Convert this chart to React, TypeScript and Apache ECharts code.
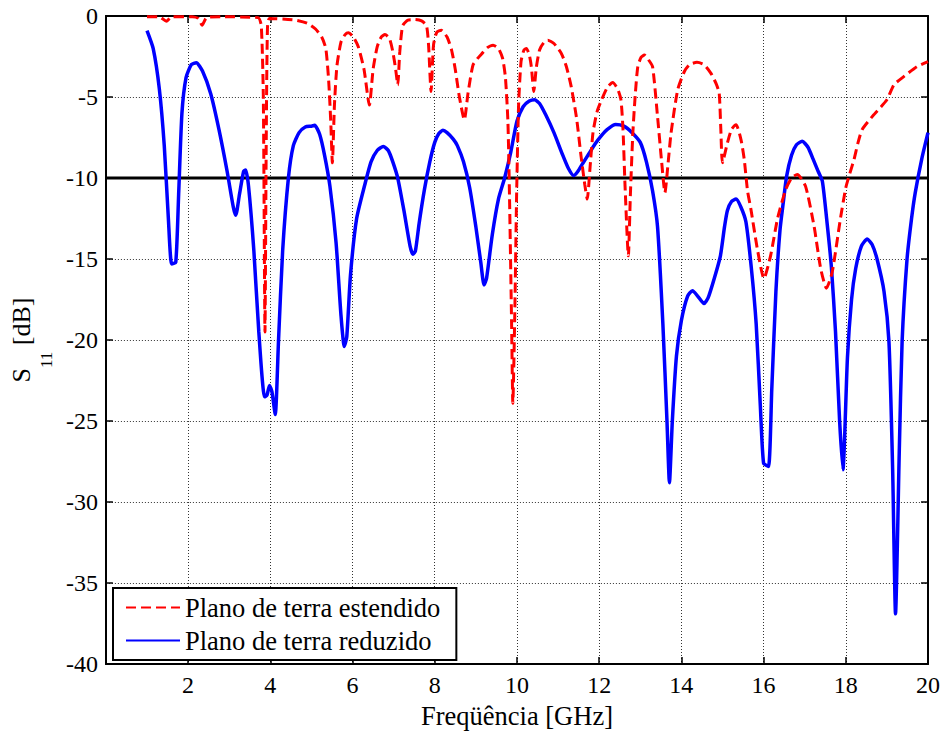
import React, { useEffect, useRef } from "react";
import * as echarts from "echarts";

// Frequency sweep (GHz) and S11 (dB) for the extended ground plane
const extFreq = [
  1.0, 1.3, 1.47, 1.6, 2.1, 2.25, 2.34, 2.45, 2.8, 3.7, 3.78, 3.83, 3.87, 3.9, 3.93, 3.98,
  4.6, 4.9, 5.1, 5.25, 5.35, 5.42, 5.47, 5.51, 5.56, 5.62, 5.72, 5.82, 5.9, 6.02, 6.14, 6.28,
  6.41, 6.5, 6.6, 6.7, 6.79, 6.9, 6.98, 7.05, 7.1, 7.15, 7.22, 7.35, 7.52, 7.68, 7.8, 7.85,
  7.91, 7.97, 8.05, 8.16, 8.3, 8.41, 8.5, 8.6, 8.72, 8.81, 8.93, 9.05, 9.14, 9.28, 9.42, 9.55,
  9.65, 9.72, 9.78, 9.82, 9.87, 9.9, 9.95, 9.99, 10.04, 10.1, 10.17, 10.23, 10.3, 10.35, 10.41,
  10.47, 10.55, 10.65, 10.75, 10.9, 11.08, 11.2, 11.32, 11.45, 11.56, 11.65, 11.71, 11.78,
  11.85, 11.95, 12.06, 12.2, 12.33, 12.45, 12.53, 12.58, 12.63, 12.71, 12.76, 12.82, 12.88,
  12.94, 13.02, 13.1, 13.2, 13.3, 13.42, 13.52, 13.6, 13.68, 13.75, 13.91, 14.07, 14.2, 14.38,
  14.55, 14.72, 14.85, 14.92, 14.96, 15.0, 15.12, 15.22, 15.33, 15.45, 15.53, 15.61, 15.69,
  15.85, 16.01, 16.17, 16.34, 16.54, 16.68, 16.82, 17.02, 17.23, 17.39, 17.53, 17.67, 17.87,
  18.0, 18.1, 18.2, 18.3, 18.4, 18.68, 19.0, 19.17, 19.41, 19.73, 20.0,
];
const extS11 = [
  -0.05, -0.05, -0.33, -0.05, -0.05, -0.15, -0.57, -0.1, -0.05, -0.1, -0.6, -5, -19.5, -8, -0.8, -0.15,
  -0.25, -0.45, -0.8, -1.3, -2.0, -4.0, -6.5, -9.06, -5.5, -3.1, -1.6, -1.15, -1.04, -1.3, -1.9, -3.3,
  -5.5, -3.3, -1.9, -1.3, -1.14, -1.4, -2.2, -3.3, -4.25, -2.2, -0.6, -0.25, -0.22, -0.3, -0.6, -1.8,
  -4.66, -1.8, -1.0, -0.88, -1.3, -2.1, -3.3, -5.0, -6.4, -4.76, -3.03, -2.6, -2.35, -1.95, -1.8, -2.0,
  -2.6, -3.8, -6.5, -11.3, -19, -23.9, -18, -11.3, -5.5, -2.8, -2.1, -2.0, -2.4, -3.13, -4.66,
  -3.2, -2.1, -1.65, -1.49, -1.7, -2.31, -3.1, -4.36, -6.3, -8.66, -10.4, -11.3, -9.3,
  -7.2, -5.9, -5.17, -4.4, -4.11, -4.5, -5.17, -7, -10.5, -14.8, -11, -7.2, -4.8,
  -3.13, -2.55, -2.41, -2.7, -3.13, -6.2, -9.0, -10.9, -9.0, -7.2, -4.56, -3.44, -3.0, -2.86,
  -3.0, -3.54, -4.2, -4.76, -7.0, -9.06, -7.83, -7.0, -6.71, -7.63, -8.86, -10.8, -11.9,
  -14.4, -16.2, -14.8, -12.5, -10.7, -10.0, -9.78, -10.5, -13.0, -15.6, -16.8, -15.8, -12.5,
  -10.6, -9.7, -8.86, -7.8, -7.0, -6.1, -5.17, -4.25, -3.74, -3.13, -2.82,
];

// Frequency sweep (GHz) and S11 (dB) for the reduced ground plane
const redFreq = [
  1.0, 1.15, 1.3, 1.42, 1.52, 1.6, 1.7, 1.77, 1.85, 1.95, 2.08, 2.2, 2.35, 2.55, 2.75, 2.95,
  3.1, 3.16, 3.25, 3.35, 3.4, 3.47, 3.6, 3.72, 3.86, 3.92, 3.98, 4.04, 4.12, 4.2, 4.3, 4.44,
  4.56, 4.7, 4.85, 5.0, 5.08, 5.2, 5.32, 5.45, 5.6, 5.72, 5.8, 5.86, 5.95, 6.1, 6.3, 6.45,
  6.6, 6.75, 6.87, 6.98, 7.1, 7.25, 7.4, 7.47, 7.53, 7.62, 7.75, 7.88, 8.0, 8.1, 8.2, 8.3,
  8.45, 8.55, 8.7, 8.85, 9.0, 9.12, 9.2, 9.26, 9.4, 9.55, 9.7, 9.85, 10.0, 10.15, 10.3, 10.43,
  10.55, 10.7, 10.9, 11.1, 11.25, 11.38, 11.48, 11.6, 11.75, 11.9, 12.05, 12.2, 12.4, 12.6,
  12.8, 13.0, 13.15, 13.3, 13.42, 13.55, 13.65, 13.71, 13.78, 13.88, 14.0, 14.15, 14.27, 14.4,
  14.55, 14.65, 14.8, 14.95, 15.05, 15.12, 15.22, 15.33, 15.45, 15.57, 15.7, 15.82, 15.92,
  16.0, 16.12, 16.2, 16.3, 16.4, 16.48, 16.56, 16.68, 16.8, 16.94, 17.08, 17.2, 17.33, 17.43,
  17.55, 17.65, 17.75, 17.85, 17.93, 18.04, 18.14, 18.24, 18.38, 18.52, 18.64, 18.76, 18.93,
  19.05, 19.14, 19.21, 19.3, 19.37, 19.49, 19.6, 19.69, 19.85, 20.0,
];
const redS11 = [
  -0.9, -2.0, -4.5, -8.0, -12.5, -15.3, -15.2, -11, -6.0, -3.8, -3.0, -2.88, -3.4, -4.8, -7.0, -9.6,
  -11.8, -12.3, -11.0, -9.6, -9.5, -10.5, -14.5, -19.5, -23.5, -23.4, -22.8, -23.2, -24.6, -20, -14.5, -10,
  -8.0, -7.2, -6.85, -6.8, -6.75, -7.3, -8.6, -10.5, -14, -18.5, -20.4, -19.8, -16, -12.5, -10.4, -9.0,
  -8.3, -8.05, -8.3, -9.0, -10, -12.0, -14.2, -14.7, -14.5, -12.8, -10.7, -9.0, -7.8, -7.25, -7.05, -7.2,
  -7.6, -8.0, -9.0, -10.6, -13.0, -15.2, -16.6, -16.2, -13.5, -11.3, -10, -8.4, -6.5, -5.6, -5.25, -5.17,
  -5.4, -6.1, -7.2, -8.5, -9.4, -9.85, -9.6, -9.1, -8.5, -7.9, -7.4, -7.0, -6.7, -6.8,
  -7.2, -7.8, -9.0, -10.8, -13, -19, -25, -28.8, -25, -21, -18.8, -17.3, -16.95, -17.3,
  -17.75, -17.4, -16.2, -14.8, -13.0, -12.0, -11.45, -11.3, -11.8, -12.7, -15.5, -19, -24,
  -27.6, -27.8, -23, -17.0, -13.2, -11.5, -9.9, -8.6, -7.95, -7.73, -8.1, -8.8, -9.6, -10.2,
  -12.9, -15.5, -19.5, -25, -28.0, -21.1, -17.5, -15.6, -14.2, -13.77, -14.1, -15.0, -17.0,
  -20.1, -28, -36.9, -27, -20.1, -15.0, -12.5, -10.9, -8.8, -7.2,
];

// -10 dB reference level
const refFreq = [0, 20];
const refLevel = [-10, -10];

const xTicks = { min: 0, max: 20, interval: 2 };
const yTicks = { min: -40, max: 0, interval: 5 };

const FONT = "'Liberation Serif', 'Times New Roman', serif";

const zip = (xs: number[], ys: number[]) => xs.map((x, i) => [x, ys[i]]);

export default function App() {
  const ref = useRef<HTMLDivElement>(null);

  useEffect(() => {
    if (!ref.current) return;
    const chart = echarts.init(ref.current, undefined, { renderer: "svg" });

    const tickStyle = { inside: true, length: 7, lineStyle: { color: "#000", width: 1.5 } };
    const frameLine = { show: true, onZero: false, lineStyle: { color: "#000", width: 2 } };
    const gridLine = { show: true, lineStyle: { color: "#333", type: [1, 2], width: 1 } };

    chart.setOption({
      animation: false,
      backgroundColor: "#fff",
      textStyle: { fontFamily: FONT },
      grid: { left: 104, right: 14, top: 16, bottom: 67, containLabel: false },
      xAxis: [
        {
          type: "value",
          ...xTicks,
          position: "bottom",
          axisLine: frameLine,
          axisTick: tickStyle,
          splitLine: gridLine,
          axisLabel: {
            margin: 9,
            fontSize: 24,
            color: "#000",
            fontFamily: FONT,
            formatter: (v: number) => (v === 0 ? "" : String(v)),
          },
          name: "Freqüência [GHz]",
          nameLocation: "middle",
          nameGap: 32,
          nameTextStyle: { fontSize: 26.5, color: "#000", fontFamily: FONT },
        },
        {
          type: "value",
          ...xTicks,
          position: "top",
          axisLine: frameLine,
          axisTick: tickStyle,
          splitLine: { show: false },
          axisLabel: { show: false },
        },
      ],
      yAxis: [
        {
          type: "value",
          ...yTicks,
          position: "left",
          axisLine: frameLine,
          axisTick: tickStyle,
          splitLine: gridLine,
          axisLabel: { margin: 8, fontSize: 24, color: "#000", fontFamily: FONT },
          name: "{s|S}{sub|11}{s| [dB]}",
          nameLocation: "middle",
          nameGap: 41,
          nameTextStyle: {
            color: "#000",
            fontFamily: FONT,
            rich: {
              s: { fontSize: 26, lineHeight: 30, verticalAlign: "top", fontFamily: FONT, color: "#000" },
              sub: {
                fontSize: 17,
                lineHeight: 17,
                verticalAlign: "top",
                padding: [30, 0, 0, 0],
                fontFamily: FONT,
                color: "#000",
              },
            },
          },
        },
        {
          type: "value",
          ...yTicks,
          position: "right",
          axisLine: frameLine,
          axisTick: tickStyle,
          splitLine: { show: false },
          axisLabel: { show: false },
        },
      ],
      legend: {
        orient: "vertical",
        left: 113,
        top: 588,
        data: ["Plano de terra estendido", "Plano de terra reduzido"],
        itemWidth: 54,
        itemHeight: 14,
        itemGap: 6,
        padding: [6, 16, 6, 12],
        backgroundColor: "#fff",
        borderColor: "#000",
        borderWidth: 2,
        borderRadius: 0,
        selectedMode: false,
        itemStyle: { opacity: 0, borderWidth: 0 },
        textStyle: { fontSize: 26.5, lineHeight: 26, color: "#000", fontFamily: FONT },
      },
      series: [
        {
          name: "-10 dB",
          type: "line",
          data: zip(refFreq, refLevel),
          symbol: "none",
          lineStyle: { color: "#000", width: 3 },
          silent: true,
          z: 1,
        },
        {
          name: "Plano de terra estendido",
          type: "line",
          data: zip(extFreq, extS11),
          symbol: "none",
          smooth: 0.2,
          lineStyle: { color: "#ff0000", width: 3, type: [10, 5] },
          itemStyle: { color: "#ff0000" },
          z: 3,
        },
        {
          name: "Plano de terra reduzido",
          type: "line",
          data: zip(redFreq, redS11),
          symbol: "none",
          smooth: 0.2,
          lineStyle: { color: "#0000ff", width: 3.5 },
          itemStyle: { color: "#0000ff" },
          z: 2,
        },
      ],
    });

    return () => chart.dispose();
  }, []);

  return (
    <div
      ref={ref}
      style={{ position: "absolute", left: 0, top: 0, width: 943, height: 734, background: "#fff" }}
    />
  );
}
